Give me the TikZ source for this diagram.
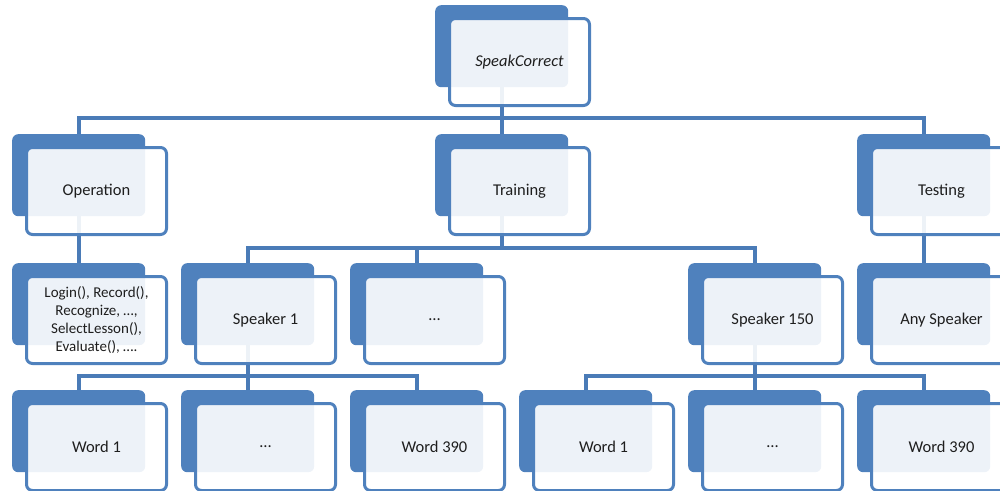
\documentclass[tikz,border=0pt]{standalone}
\usepackage{fontspec}
\setmainfont{Carlito}
\usetikzlibrary{positioning,backgrounds}
\definecolor{artblue}{HTML}{4F81BD}
\definecolor{linkblue}{HTML}{4A7BB7}
\definecolor{ink}{HTML}{1E1E1E}

% one tier box: back plate plus front card
\newcommand{\tierbox}[4]{%
  \node[backplate] (#1-b) at (#2,#3) {};
  \node[frontcard] (#1) at ([shift={(13pt,-12pt)}]#1-b.north west) {#4};
}

\begin{document}
\begin{tikzpicture}[
  x=1pt,y=-1pt,
  font=\fontsize{16.5}{18}\selectfont,
  backplate/.style={anchor=north west,fill=artblue,draw=none,rounded corners=6pt,
                    minimum width=133pt,minimum height=82pt,inner sep=0pt},
  frontcard/.style={anchor=north west,fill=white,fill opacity=.9,text opacity=1,
                    draw=artblue,line width=3pt,rounded corners=6pt,
                    minimum width=140pt,minimum height=87pt,inner sep=2pt,
                    align=center,text=ink},
  link/.style={draw=linkblue,line width=4pt,line cap=butt}
]
\useasboundingbox (0,0) rectangle (1000,490);
\clip (0,0) rectangle (1000,490);

% level 0 and 1
\tierbox{root}{435}{5}{\itshape SpeakCorrect}
\tierbox{oper}{12}{134}{Operation}
\tierbox{train}{435}{134}{Training}
\tierbox{test}{857}{134}{Testing}

% level 2
\tierbox{func}{12}{263}{\fontsize{15}{14.7}\selectfont Login(), Record(),\\
  \fontsize{15}{14.7}\selectfont Recognize, \dots ,\\
  \fontsize{15}{14.7}\selectfont SelectLesson(),\\
  \fontsize{15}{14.7}\selectfont Evaluate(), \dots.}
\tierbox{spka}{181}{263}{Speaker 1}
\tierbox{spkb}{350}{263}{\dots}
\tierbox{spkc}{688}{263}{Speaker 150}
\tierbox{anyspk}{857}{263}{Any Speaker}

% level 3
\tierbox{wda}{12}{390}{Word 1}
\tierbox{wdb}{181}{390}{\dots}
\tierbox{wdc}{350}{390}{Word 390}
\tierbox{wdd}{519}{390}{Word 1}
\tierbox{wde}{688}{390}{\dots}
\tierbox{wdf}{857}{390}{Word 390}

\begin{scope}[on background layer]
\foreach \kid in {oper,train,test}
  \draw[link] (root-b.south) -- ++(0,31) -| (\kid-b.north);
\foreach \kid in {spka,spkb,spkc}
  \draw[link] (train-b.south) -- ++(0,32) -| (\kid-b.north);
\draw[link] (oper-b.south) -- (func-b.north);
\draw[link] (test-b.south) -- (anyspk-b.north);
\foreach \kid in {wda,wdb,wdc}
  \draw[link] (spka-b.south) -- ++(0,31) -| (\kid-b.north);
\foreach \kid in {wdd,wde,wdf}
  \draw[link] (spkc-b.south) -- ++(0,31) -| (\kid-b.north);
\end{scope}
\end{tikzpicture}
\end{document}
